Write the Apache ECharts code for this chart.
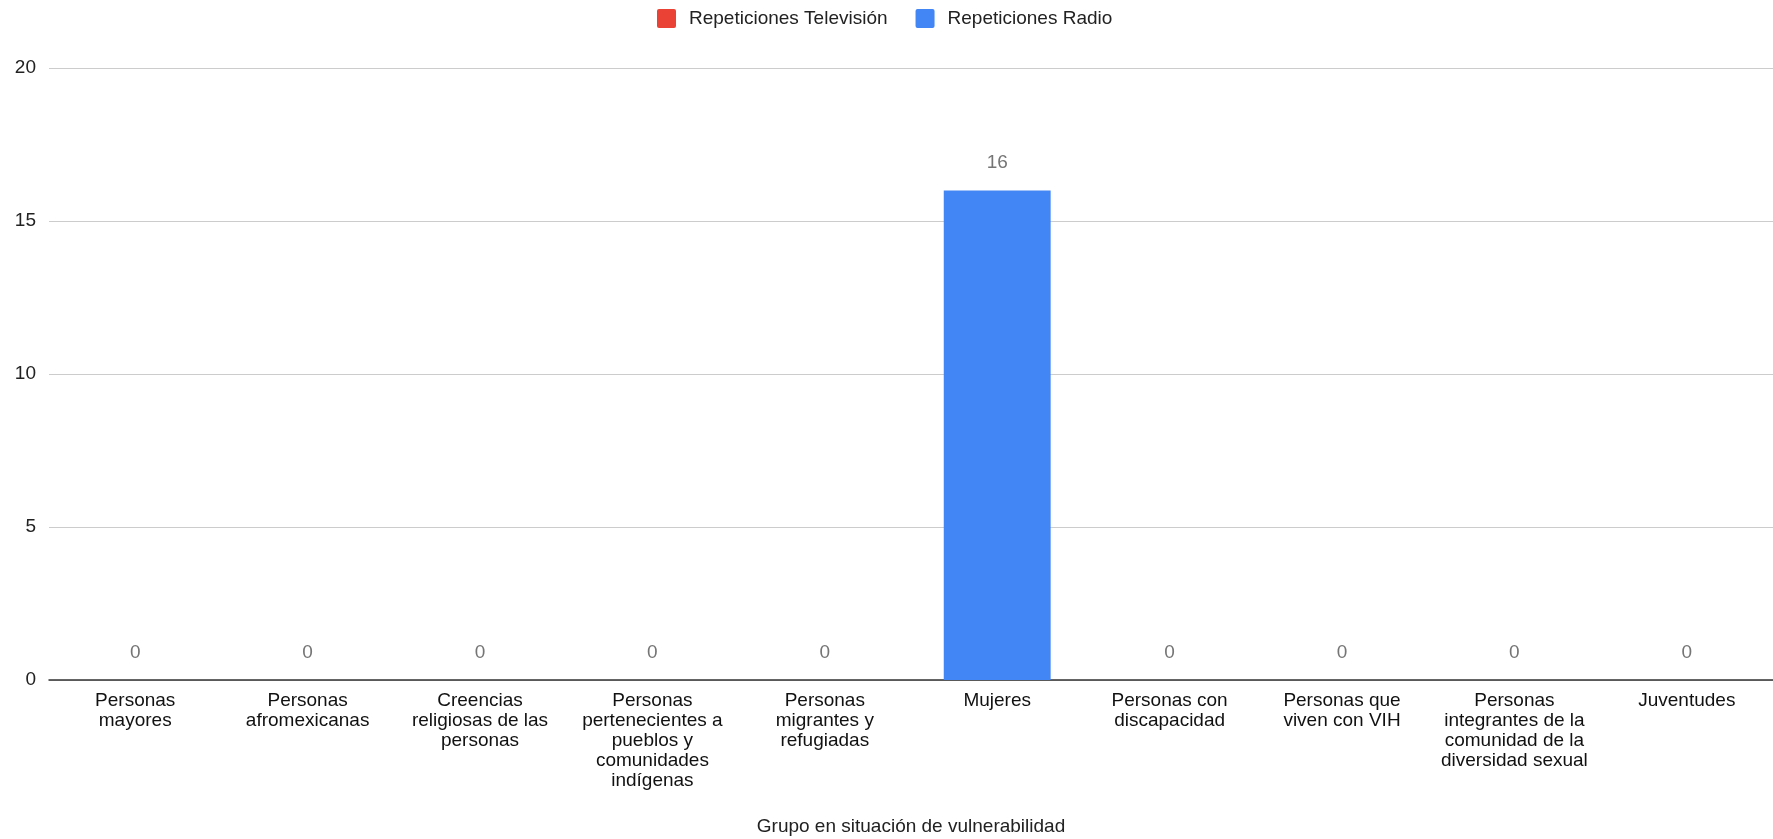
<!DOCTYPE html>
<html>
<head>
<meta charset="utf-8">
<script src="https://cdn.jsdelivr.net/npm/echarts@6/dist/echarts.min.js"></script>
<style>
html,body{margin:0;padding:0;background:#fff;}
#chart{width:1773px;height:839px;}
</style>
</head>
<body>
<div id="chart"></div>
<script>
var categories = [
  "Personas mayores",
  "Personas afromexicanas",
  "Creencias religiosas de las personas",
  "Personas pertenecientes a pueblos y comunidades indígenas",
  "Personas migrantes y refugiadas",
  "Mujeres",
  "Personas con discapacidad",
  "Personas que viven con VIH",
  "Personas integrantes de la comunidad de la diversidad sexual",
  "Juventudes"
];
var categoryLabels = [
  "Personas\nmayores",
  "Personas\nafromexicanas",
  "Creencias\nreligiosas de las\npersonas",
  "Personas\npertenecientes a\npueblos y\ncomunidades\nindígenas",
  "Personas\nmigrantes y\nrefugiadas",
  "Mujeres",
  "Personas con\ndiscapacidad",
  "Personas que\nviven con VIH",
  "Personas\nintegrantes de la\ncomunidad de la\ndiversidad sexual",
  "Juventudes"
];
var seriesNames = ["Repeticiones Televisión", "Repeticiones Radio"];
var televisionValues = [null, null, null, null, null, null, null, null, null, null];
var radioValues = [0, 0, 0, 0, 0, 16, 0, 0, 0, 0];
var yTicks = [0, 5, 10, 15, 20];
var xAxisTitle = "Grupo en situación de vulnerabilidad";

var font = "Liberation Sans, Arial, sans-serif";
var squareIcon = 'path://M2,0 H17 Q19,0 19,2 V17 Q19,19 17,19 H2 Q0,19 0,17 V2 Q0,0 2,0 Z';
var chart = echarts.init(document.getElementById('chart'), null, {renderer: 'canvas'});
chart.setOption({
  animation: false,
  backgroundColor: '#ffffff',
  textStyle: {fontFamily: font},
  legend: {
    top: 4,
    left: 652,
    itemWidth: 19,
    itemHeight: 19,
    itemGap: 28,
    textStyle: {fontSize: 19, color: '#222', fontFamily: font, padding: [0, 0, 0, 8]},
    data: [
      {name: seriesNames[0], icon: squareIcon},
      {name: seriesNames[1], icon: squareIcon}
    ]
  },
  grid: {left: 49, right: 0, top: 68, bottom: 159, containLabel: false, outerBoundsMode: 'none'},
  xAxis: {
    type: 'category',
    data: categories,
    name: xAxisTitle,
    nameLocation: 'middle',
    nameGap: 137,
    nameTextStyle: {fontSize: 19, color: '#222', fontFamily: font},
    axisTick: {show: false},
    axisLine: {lineStyle: {color: '#333', width: 1.5}},
    axisLabel: {
      interval: 0,
      fontSize: 19,
      lineHeight: 20,
      color: '#111',
      margin: 11,
      verticalAlign: 'top',
      fontFamily: font,
      formatter: function (v, i) { return categoryLabels[i]; }
    }
  },
  yAxis: {
    type: 'value',
    min: yTicks[0],
    max: yTicks[yTicks.length - 1],
    interval: yTicks[1] - yTicks[0],
    axisLine: {show: false},
    axisTick: {show: false},
    splitLine: {lineStyle: {color: '#cccccc', width: 1}},
    axisLabel: {fontSize: 19, color: '#222', margin: 13, fontFamily: font}
  },
  series: [
    {
      name: seriesNames[0],
      type: 'bar',
      data: televisionValues,
      itemStyle: {color: '#EA4335'},
      barGap: '-100%',
      barCategoryGap: '38%'
    },
    {
      name: seriesNames[1],
      type: 'bar',
      data: radioValues,
      itemStyle: {color: '#4285F4'},
      barGap: '-100%',
      barCategoryGap: '38%',
      label: {
        show: true,
        position: 'top',
        distance: 18,
        fontSize: 19,
        color: '#757575',
        fontFamily: font
      }
    }
  ]
});
</script>
</body>
</html>
